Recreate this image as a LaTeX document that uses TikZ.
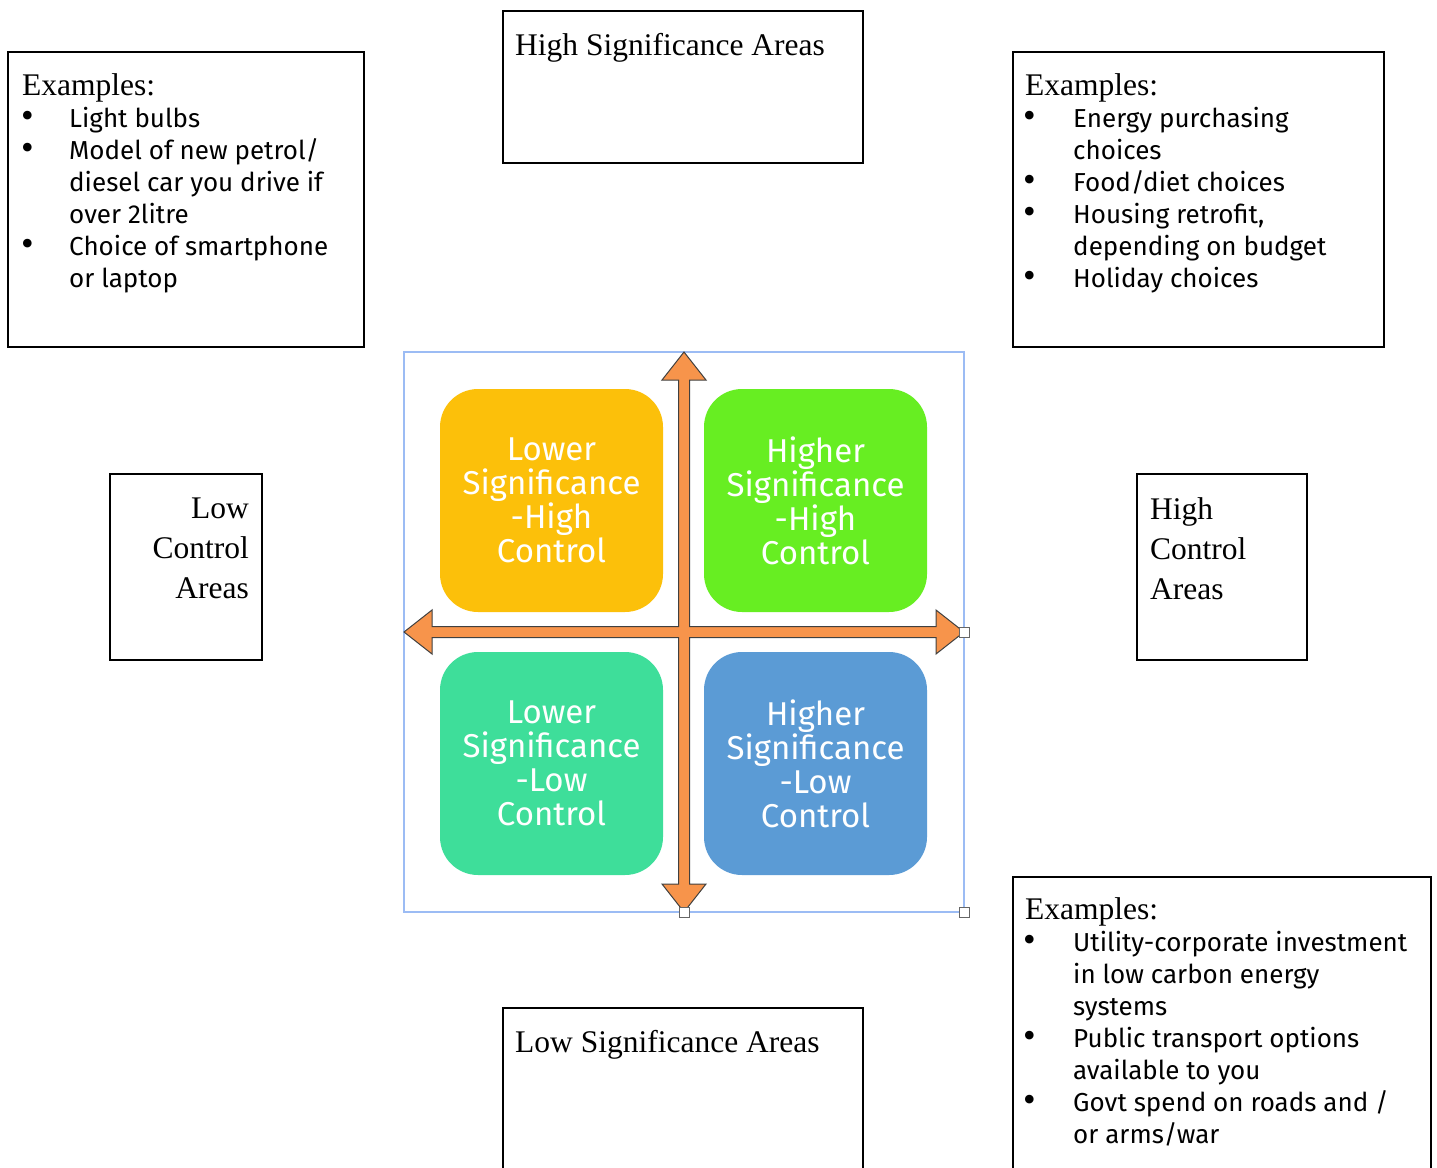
\documentclass[tikz,border=0pt]{standalone}
\usepackage{fontspec}
\setmainfont{Liberation Serif}
\newfontfamily\sansf{Fira Sans}
\definecolor{qyellow}{HTML}{FCC00A}
\definecolor{qgreen}{HTML}{67EE22}
\definecolor{qteal}{HTML}{3EDE9A}
\definecolor{qblue}{HTML}{5B9BD5}
\definecolor{arrorange}{HTML}{F7944B}
\definecolor{framblue}{HTML}{9CBCF4}
\begin{document}
\begin{tikzpicture}[x=1pt,y=-1pt,
  box/.style={draw=black, line width=1.8pt},
  sert/.style={font=\fontsize{31.5}{38}\selectfont, inner sep=0pt, anchor=base west},
  sertr/.style={font=\fontsize{31.5}{38}\selectfont, inner sep=0pt, anchor=base east},
  bt/.style={font=\sansf\fontsize{26}{32}\selectfont, inner sep=0pt, anchor=base west},
  bul/.style={font=\fontsize{36}{32}\selectfont, inner sep=0pt, anchor=base west},
  quad/.style={rounded corners=38pt, minimum width=223pt, minimum height=223pt,
    text=white, align=center, font=\sansf\fontsize{33}{34}\selectfont, inner sep=0pt},
  handle/.style={draw=gray!80!black, fill=white, line width=0.8pt, minimum size=10pt, inner sep=0pt}]
\useasboundingbox (0,0) rectangle (1437,1167);

% ---------- boxes ----------
\draw[box] (8,52) rectangle (364,347);
\draw[box] (503,11) rectangle (863,163);
\draw[box] (1013,52) rectangle (1384,347);
\draw[box] (110,474) rectangle (262,660);
\draw[box] (1137,474) rectangle (1307,660);
\draw[box] (1013,1172) -- (1013,877) -- (1431,877) -- (1431,1172);
\draw[box] (503,1172) -- (503,1008) -- (863,1008) -- (863,1172);

% ---------- top-left examples ----------
\node[sert] (tlh) at (22,95) {Examples:};
\node[bul] (tlb1) at (21,127) {•};
\node[bt] (tl1) at (69,127) {Light bulbs};
\node[bul] (tlb2) at (21,159) {•};
\node[bt] (tl2) at (69,159) {Model of new petrol/};
\node[bt] (tl3) at (69,191) {diesel car you drive if};
\node[bt] (tl4) at (69,223) {over 2litre};
\node[bul] (tlb3) at (21,255) {•};
\node[bt] (tl5) at (69,255) {Choice of smartphone};
\node[bt] (tl6) at (69,287) {or laptop};

% ---------- top-right examples ----------
\node[sert] (trh) at (1025,95) {Examples:};
\node[bul] (trb1) at (1023,127) {•};
\node[bt] (tr1) at (1073,127) {Energy purchasing};
\node[bt] (tr2) at (1073,159) {choices};
\node[bul] (trb2) at (1023,191) {•};
\node[bt] (tr3) at (1073,191) {Food/diet choices};
\node[bul] (trb3) at (1023,223) {•};
\node[bt] (tr4) at (1073,223) {Housing retrofit,};
\node[bt] (tr5) at (1073,255) {depending on budget};
\node[bul] (trb4) at (1023,287) {•};
\node[bt] (tr6) at (1073,287) {Holiday choices};

% ---------- bottom-right examples ----------
\node[sert] (brh) at (1025,919) {Examples:};
\node[bul] (brb1) at (1023,951) {•};
\node[bt] (br1) at (1073,951) {Utility-corporate investment};
\node[bt] (br2) at (1073,983) {in low carbon energy};
\node[bt] (br3) at (1073,1015) {systems};
\node[bul] (brb2) at (1023,1047) {•};
\node[bt] (br4) at (1073,1047) {Public transport options};
\node[bt] (br5) at (1073,1079) {available to you};
\node[bul] (brb3) at (1023,1111) {•};
\node[bt] (br6) at (1073,1111) {Govt spend on roads and /};
\node[bt] (br7) at (1073,1143) {or arms/war};

% ---------- axis labels ----------
\node[sert] (hsa) at (515,55) {High Significance Areas};
\node[sert] (lsa) at (515,1052) {Low Significance Areas};
\node[sertr] (lca1) at (249,518) {Low};
\node[sertr] (lca2) at (249,558) {Control};
\node[sertr] (lca3) at (249,598) {Areas};
\node[sert] (hca1) at (1150,519) {High};
\node[sert] (hca2) at (1150,559) {Control};
\node[sert] (hca3) at (1150,599) {Areas};

% ---------- frame ----------
\draw[framblue, line width=1.2pt] (404,352) rectangle (964,912);

% ---------- quadrants ----------
\node[quad, fill=qyellow] (q1) at (551.5,500.5) {Lower\\Significance\\-High\\Control};
\node[quad, fill=qgreen] (q2) at (815.5,500.5) {Higher\\Significance\\-High\\Control};
\node[quad, fill=qteal] (q3) at (551.5,763.5) {Lower\\Significance\\-Low\\Control};
\node[quad, fill=qblue] (q4) at (815.5,763.5) {Higher\\Significance\\-Low\\Control};

% ---------- cross arrow ----------
\draw[fill=arrorange, draw=black!75, line width=1pt, line join=miter]
  (684,352) -- (706,380) -- (689.5,380) -- (689.5,626.5) -- (936,626.5) -- (936,610)
  -- (964,632) -- (936,654) -- (936,637.5) -- (689.5,637.5) -- (689.5,884) -- (706,884)
  -- (684,912) -- (662,884) -- (678.5,884) -- (678.5,637.5) -- (432,637.5) -- (432,654)
  -- (404,632) -- (432,610) -- (432,626.5) -- (678.5,626.5) -- (678.5,380) -- (662,380) -- cycle;

% ---------- handles ----------
\node[handle] (h1) at (964,632) {};
\node[handle] (h2) at (684,912) {};
\node[handle] (h3) at (964,912) {};
\end{tikzpicture}
\end{document}
